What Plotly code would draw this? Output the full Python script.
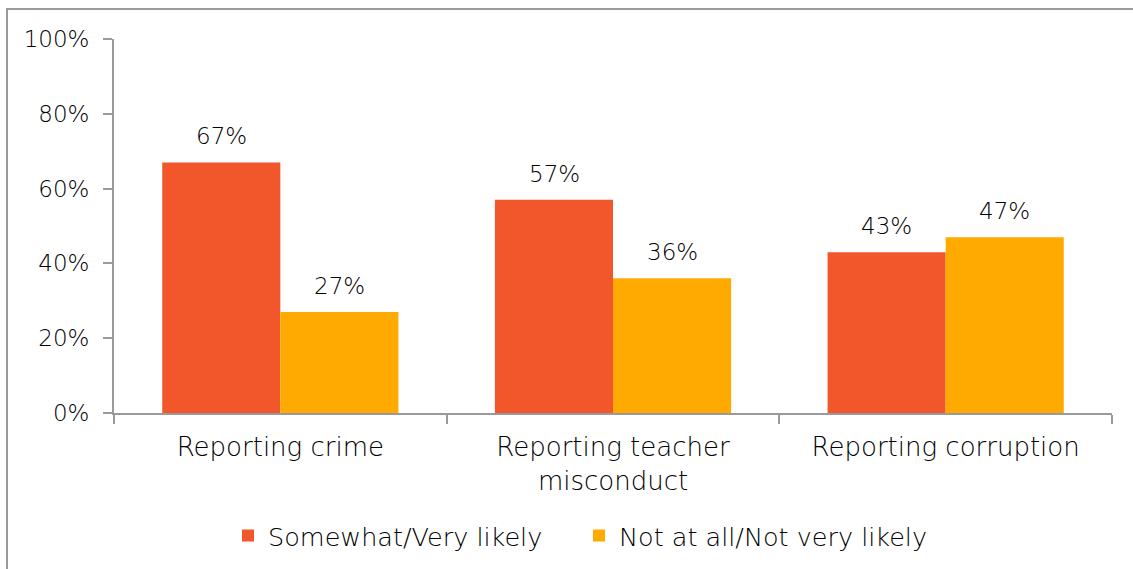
import plotly.graph_objects as go

categories = ["Reporting crime", "Reporting teacher<br>misconduct", "Reporting corruption"]
series_names = ["Somewhat/Very likely", "Not at all/Not very likely"]
likely = [0.67, 0.57, 0.43]
not_likely = [0.27, 0.36, 0.47]
colors = ["#F2572B", "#FFAA00"]

FONT = "DejaVu Sans"
TXT = "#000000"
W = 300
fig = go.Figure()
offsets = [-59, 59]
annotations = []
for name, vals, col, off in zip(series_names, [likely, not_likely], colors, offsets):
    fig.add_trace(go.Bar(
        x=categories, y=vals, name=name,
        marker=dict(color=col, line=dict(width=0)),
    ))
    for c, v in zip(categories, vals):
        annotations.append(dict(x=c, y=v, xref="x", yref="y", text=f"{round(v*100)}%",
                                showarrow=False, xshift=off, yshift=26, yanchor="middle",
                                font=dict(family=FONT, size=23, color=TXT, weight=W)))

fig.update_layout(
    width=1133, height=569,
    margin=dict(l=114, r=21, t=39, b=156, autoexpand=False),
    paper_bgcolor="white", plot_bgcolor="white",
    barmode="group", bargap=0.29, bargroupgap=0,
    font=dict(family=FONT, size=23, color=TXT, weight=W),
    showlegend=True,
    legend=dict(orientation="h", x=(228 - 114) / 998, xanchor="left", xref="paper",
                y=1 - 536/569, yref="container", yanchor="middle",
                font=dict(family=FONT, size=25.5, color=TXT, weight=W),
                itemwidth=30, entrywidth=306, traceorder="normal"),
    xaxis=dict(showline=True, linecolor="#9a9a9a", linewidth=2,
               ticks="outside", ticklen=9, tickcolor="#9a9a9a", tickwidth=2,
               tickson="boundaries", showgrid=False, ticklabelstandoff=10,
               tickfont=dict(family=FONT, size=26, color=TXT, weight=W)),
    yaxis=dict(range=[0, 1], dtick=0.2, tickformat=".0%",
               showline=True, linecolor="#9a9a9a", linewidth=2,
               ticks="outside", ticklen=9, tickcolor="#9a9a9a", tickwidth=2,
               showgrid=False, zeroline=False, ticklabelstandoff=9,
               tickfont=dict(family=FONT, size=23, color=TXT, weight=W)),
    annotations=annotations,
    shapes=[dict(type="rect", xref="paper", yref="paper",
                 x0=(7-114)/998, x1=1.05, y0=-0.5, y1=1+(39-9)/374,
                 line=dict(color="#9a9a9a", width=2), layer="below")],
)

fig.write_html("out.html")
